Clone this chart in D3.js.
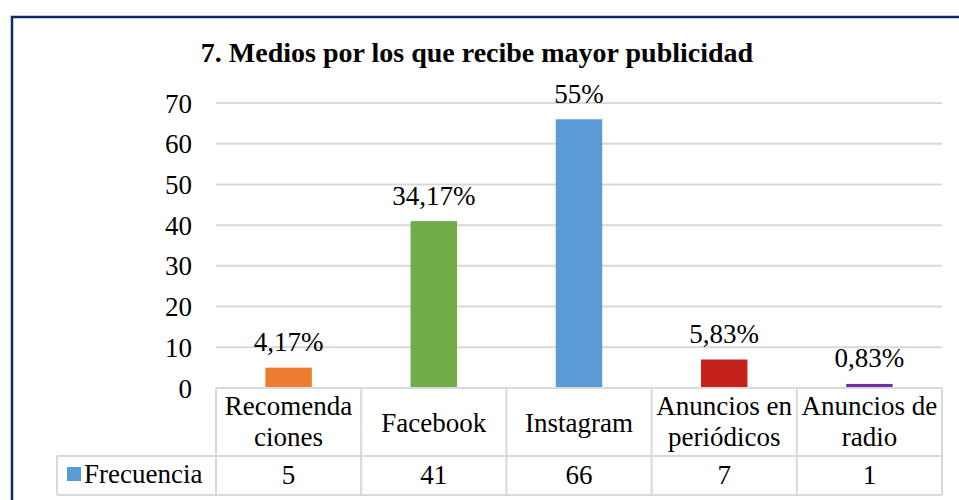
<!DOCTYPE html>
<html>
<head>
<meta charset="utf-8">
<script src="https://cdn.jsdelivr.net/npm/d3@7"></script>
<style>
  body { margin: 0; background: #fff; }
</style>
</head>
<body>
<svg id="chart" width="959" height="500"></svg>
<script>
// chart data
const categories = [["Recomenda", "ciones"], ["Facebook"], ["Instagram"], ["Anuncios en", "periódicos"], ["Anuncios de", "radio"]];
const values = [5, 41, 66, 7, 1];
const pctLabels = ["4,17%", "34,17%", "55%", "5,83%", "0,83%"];
const barColors = ["#ED7D31", "#70AD47", "#5B9BD5", "#C5221A", "#7030A0"];
const yTicks = [0, 10, 20, 30, 40, 50, 60, 70];
const seriesName = "Frecuencia";

const FONT = "'Liberation Serif', 'Times New Roman', serif";
const FS = 27;

const svg = d3.select('#chart');

// outer frame (right and bottom run off the picture)
svg.append('rect')
  .attr('x', 12).attr('y', 17)
  .attr('width', 960).attr('height', 500)
  .attr('fill', 'none')
  .attr('stroke', '#0B2A66')
  .attr('stroke-width', 2.5);

svg.append('text')
  .attr('x', 477).attr('y', 62)
  .attr('text-anchor', 'middle')
  .style('font-family', FONT).style('font-size', '28px').style('font-weight', 'bold')
  .text('7. Medios por los que recibe mayor publicidad');

const left = 216, right = 942;
const x = d3.scaleBand().domain(d3.range(values.length)).range([left, right]).padding(0);
const y = d3.scaleLinear().domain([0, 70]).range([388, 103]);

// gridlines
svg.append('g')
  .selectAll('line')
  .data(yTicks.filter(d => d > 0))
  .join('line')
  .attr('x1', left).attr('x2', right)
  .attr('y1', d => y(d)).attr('y2', d => y(d))
  .attr('stroke', '#D9D9D9').attr('stroke-width', 2);

// y axis labels
const yAxis = svg.append('g')
  .attr('transform', `translate(${left - 24},0)`)
  .call(d3.axisLeft(y).tickValues(yTicks).tickSize(0).tickPadding(0));
yAxis.select('.domain').remove();
yAxis.selectAll('text')
  .style('font-family', FONT).style('font-size', FS + 'px')
  .attr('fill', '#000')
  .attr('dy', 9);

// bars
const barW = x.bandwidth() * 0.32;
svg.selectAll('.bar')
  .data(values)
  .join('rect')
  .attr('class', 'bar')
  .attr('x', (d, i) => x(i) + (x.bandwidth() - barW) / 2)
  .attr('width', barW)
  .attr('y', d => y(d))
  .attr('height', d => y(0) - y(d))
  .attr('fill', (d, i) => barColors[i]);

// percentage labels
svg.selectAll('.lbl')
  .data(values)
  .join('text')
  .attr('class', 'lbl')
  .attr('x', (d, i) => x(i) + x.bandwidth() / 2)
  .attr('y', d => y(d) - 16.5)
  .attr('text-anchor', 'middle')
  .style('font-family', FONT).style('font-size', FS + 'px')
  .text((d, i) => pctLabels[i]);

// data table
const tTop = 388, tMid = 456, tBot = 495, legLeft = 57;
const grid = svg.append('g').attr('stroke', '#D9D9D9').attr('stroke-width', 2).attr('fill', 'none');
grid.append('line').attr('x1', left).attr('x2', right).attr('y1', tTop).attr('y2', tTop);
grid.append('line').attr('x1', legLeft).attr('x2', right).attr('y1', tMid).attr('y2', tMid);
grid.append('line').attr('x1', legLeft).attr('x2', right).attr('y1', tBot).attr('y2', tBot);
grid.append('line').attr('x1', legLeft).attr('x2', legLeft).attr('y1', tMid).attr('y2', tBot);
grid.selectAll('.v')
  .data(d3.range(values.length + 1))
  .join('line')
  .attr('x1', i => i < values.length ? x(i) : right)
  .attr('x2', i => i < values.length ? x(i) : right)
  .attr('y1', tTop).attr('y2', tBot);

// category headers
svg.selectAll('.cat')
  .data(categories)
  .join('text')
  .attr('class', 'cat')
  .attr('text-anchor', 'middle')
  .style('font-family', FONT).style('font-size', FS + 'px')
  .attr('x', (d, i) => x(i) + x.bandwidth() / 2)
  .attr('y', d => d.length === 1 ? 432 : 415)
  .each(function(d, i) {
    d3.select(this).selectAll('tspan')
      .data(d)
      .join('tspan')
      .attr('x', x(i) + x.bandwidth() / 2)
      .attr('dy', (t, j) => j === 0 ? 0 : 31)
      .text(t => t);
  });

// values row
svg.selectAll('.val')
  .data(values)
  .join('text')
  .attr('class', 'val')
  .attr('text-anchor', 'middle')
  .style('font-family', FONT).style('font-size', FS + 'px')
  .attr('x', (d, i) => x(i) + x.bandwidth() / 2)
  .attr('y', 484)
  .text(d => d);

// legend key in table
svg.append('rect')
  .attr('x', 67).attr('y', 467).attr('width', 14).attr('height', 14)
  .attr('fill', barColors[2]);
svg.append('text')
  .attr('x', 84).attr('y', 483)
  .style('font-family', FONT).style('font-size', FS + 'px')
  .text(seriesName);
</script>
</body>
</html>
